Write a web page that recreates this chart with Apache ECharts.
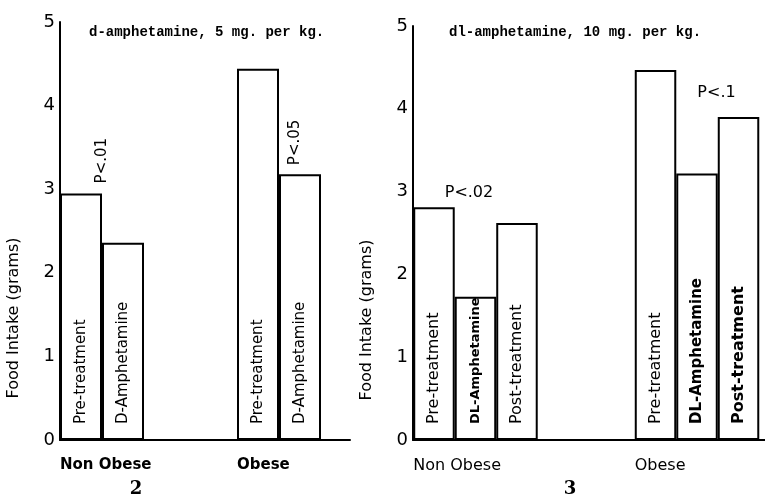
<!DOCTYPE html>
<html>
<head>
<meta charset="utf-8">
<script src="https://cdn.jsdelivr.net/npm/echarts@6/dist/echarts.min.js"></script>
<style>
  html, body { margin: 0; padding: 0; background: #fff; }
  #main { width: 765px; height: 499px; }
</style>
</head>
<body>
<div id="main"></div>
<script>
// 图2 数据：d-amphetamine, 5 mg. per kg.
var groups2 = ['Non Obese', 'Obese'];
var pre2 = [2.95, 4.44];
var damph2 = [2.36, 3.18];
var pText2 = ['P<.01', 'P<.05'];

// 图3 数据：dl-amphetamine, 10 mg. per kg.
var groups3 = ['Non Obese', 'Obese'];
var pre3 = [2.81, 4.47];
var dlamph3 = [1.73, 3.22];
var post3 = [2.62, 3.90];
var pText3 = ['P<.02', 'P<.1'];

var yName = 'Food Intake (grams)';
var FONT = 'DejaVu Sans';

var chart = echarts.init(document.getElementById('main'));

// 框架坐标轴（y轴和底线）
function frameY(gridIndex) {
    return {
        gridIndex: gridIndex, type: 'value', min: 0, max: 5, interval: 1,
        axisLine: { show: true, lineStyle: { color: '#000', width: 2 } },
        axisTick: { show: false },
        splitLine: { show: false },
        axisLabel: { color: '#000', fontSize: 18, fontFamily: FONT, margin: 5 },
        name: yName, nameLocation: 'middle', nameGap: 38,
        nameTextStyle: { color: '#000', fontSize: 16, fontFamily: FONT, padding: [0, 174, 0, 0] }
    };
}
function frameX(gridIndex) {
    return {
        gridIndex: gridIndex, type: 'value', min: 0, max: 1,
        axisLine: { show: true, lineStyle: { color: '#000', width: 2 } },
        axisTick: { show: false }, splitLine: { show: false },
        axisLabel: { show: false }
    };
}
// 柱子用的坐标轴
function barX(gridIndex, data, groupWidth, size, weight) {
    return {
        gridIndex: gridIndex, type: 'category', data: data,
        axisLine: { show: false }, axisTick: { show: false },
        axisLabel: {
            margin: 18, align: 'center', interval: 0,
            formatter: function (v) { return '{g|' + v + '}'; },
            rich: { g: { width: groupWidth, align: 'left', fontSize: size, fontWeight: weight, fontFamily: FONT, color: '#000' } }
        }
    };
}
function barY(gridIndex) {
    return { gridIndex: gridIndex, type: 'value', min: 0, max: 5, show: false };
}

// 柱状系列
function bars(name, cats, values, axisIndex, width, size, styles) {
    return {
        name: name, type: 'bar', xAxisIndex: axisIndex, yAxisIndex: axisIndex,
        barWidth: width, barGap: 0, clip: false,
        itemStyle: { color: '#fff', borderColor: '#000', borderWidth: 2 },
        label: {
            show: true, position: 'insideBottom', rotate: 90, align: 'left', verticalAlign: 'middle',
            distance: 16, fontSize: size, fontFamily: FONT, color: '#000',
            formatter: name
        },
        data: values.map(function (v, i) {
            var item = { value: [cats[i], v] };
            if (styles && styles[i]) item.label = styles[i];
            return item;
        }),
        silent: true
    };
}

// P值标注
function pMark(text, coord, offset, rotate, size) {
    return {
        coord: coord, symbol: 'rect', symbolSize: 1, symbolOffset: offset,
        itemStyle: { color: 'rgba(0,0,0,0)' },
        label: {
            show: true, position: 'inside', formatter: text, rotate: rotate,
            align: rotate ? 'left' : 'center', verticalAlign: 'middle',
            fontSize: size, fontFamily: FONT, color: '#000'
        }
    };
}

var sPre2 = bars('Pre-treatment', groups2, pre2, 1, 42, 15);
sPre2.markPoint = { silent: true, data: [pMark(pText2[0], [groups2[0], pre2[0]], [21, -10], 90, 15)] };
var sD2 = bars('D-Amphetamine', groups2, damph2, 1, 42, 15);
sD2.markPoint = { silent: true, data: [pMark(pText2[1], [groups2[1], damph2[1]], [-5, -9], 90, 15)] };

var sPre3 = bars('Pre-treatment', groups3, pre3, 3, 41.5, 16);
sPre3.markPoint = { silent: true, data: [pMark(pText3[0], [groups3[0], pre3[0]], [35, -14], 0, 16)] };
var sDL3 = bars('DL-Amphetamine', groups3, dlamph3, 3, 41.5, 16,
    [{ fontSize: 13, fontWeight: 'bold' }, { fontSize: 15, fontWeight: 'bold' }]);
var sPost3 = bars('Post-treatment', groups3, post3, 3, 41.5, 16, [null, { fontSize: 16, fontWeight: 'bold' }]);
sPost3.markPoint = { silent: true, data: [pMark(pText3[1], [groups3[1], post3[1]], [-22, -24], 0, 16)] };

var option = {
    backgroundColor: '#fff',
    animation: false,
    title: [
        { text: 'd-amphetamine, 5 mg. per kg.', left: 84, top: 20,
          textStyle: { fontFamily: 'Liberation Mono', fontSize: 14, fontWeight: 'bold', color: '#000' } },
        { text: 'dl-amphetamine, 10 mg. per kg.', left: 444, top: 20,
          textStyle: { fontFamily: 'Liberation Mono', fontSize: 14, fontWeight: 'bold', color: '#000' } },
        { text: '2', left: 131, top: 475, textAlign: 'center',
          textStyle: { fontFamily: 'DejaVu Serif', fontSize: 18, fontWeight: 'bold', color: '#000' } },
        { text: '3', left: 565, top: 475, textAlign: 'center',
          textStyle: { fontFamily: 'DejaVu Serif', fontSize: 18, fontWeight: 'bold', color: '#000' } }
    ],
    grid: [
        { left: 60, top: 22, width: 290, height: 418 },
        { left: 13.5, top: 22, width: 354, height: 418 },
        { left: 413, top: 26, width: 360, height: 414 },
        { left: 420.1, top: 26, width: 332.3, height: 414 }
    ],
    xAxis: [
        frameX(0),
        barX(1, groups2, 84, 15, 'bold'),
        frameX(2),
        barX(3, [groups3[0], '', groups3[1]], 124.5, 16, 'normal')
    ],
    yAxis: [frameY(0), barY(1), frameY(2), barY(3)],
    series: [sPre2, sD2, sPre3, sDL3, sPost3]
};
chart.setOption(option);
</script>
</body>
</html>
